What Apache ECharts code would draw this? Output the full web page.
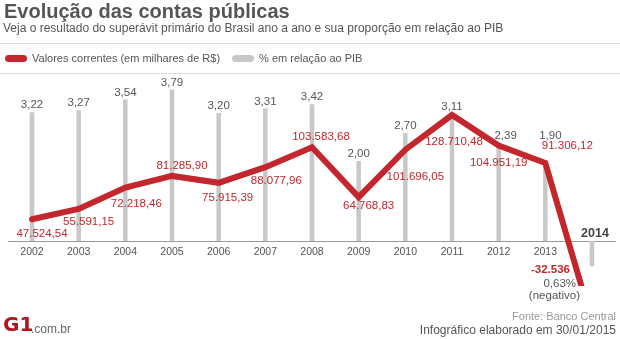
<!DOCTYPE html>
<html>
<head>
<meta charset="utf-8">
<script src="https://cdn.jsdelivr.net/npm/echarts@6/dist/echarts.min.js"></script>
<style>
  html, body { margin: 0; padding: 0; background: #fff; }
  #chart { width: 620px; height: 339px; }
</style>
</head>
<body>
<div id="chart"></div>
<script>
// Superávit primário: valores correntes (milhares de R$) e % do PIB
const years = ['2002', '2003', '2004', '2005', '2006', '2007', '2008', '2009', '2010', '2011', '2012', '2013', '2014'];
const valores = [47524.54, 55591.15, 72218.46, 81285.90, 75915.39, 88077.96, 103583.68, 64768.83, 101696.05, 128710.48, 104951.19, 91306.12, -32536];
const pib = [3.22, 3.27, 3.54, 3.79, 3.20, 3.31, 3.42, 2.00, 2.70, 3.11, 2.39, 1.90, -0.63];

// label placement around each point of the line (pixels)
const lineLabelOffset = [[10, 15], [10, 13], [11, 16], [10, -10], [9, 15.5], [11, 14], [9, -10.6], [10, 9], [10, 27.6], [2, 26.7], [0, 17], [22, -17], [0, 0]];
// extra nudges for the % labels that would sit on the line
const barLabelOffset = { 9: [0, -3], 10: [7, -3], 11: [5, -22] };

const RED = '#c4262d';
const RED_TEXT = '#c0282d';
const GRAY_TEXT = '#555';
const FONT = '"Liberation Sans", Arial, sans-serif';
const GRID_BOTTOM = 56;
const HEIGHT = 339;

function fmtBR(v, dec) {
  const neg = v < 0;
  const s = Math.abs(v).toFixed(dec);
  const parts = s.split('.');
  const intPart = parts[0].replace(/\B(?=(\d{3})+(?!\d))/g, '.');
  return (neg ? '-' : '') + intPart + (parts[1] ? ',' + parts[1] : '');
}

const last = years.length - 1;

const barData = pib.map((v, i) => {
  if (i === last) {
    return { value: v, label: { fontWeight: 'bold', fontSize: 12.5, color: '#444', offset: [3, 0] } };
  }
  if (barLabelOffset[i]) {
    return { value: v, label: { offset: barLabelOffset[i] } };
  }
  return v;
});

const lineData = valores.map((v, i) => ({
  value: v,
  label: i === last ? { show: false } : { offset: lineLabelOffset[i] }
}));

const chart = echarts.init(document.getElementById('chart'), null, { renderer: 'canvas' });

const baseGraphic = [
  { id: 'title', type: 'text', left: 4, top: 2, style: { text: 'Evolução das contas públicas', font: 'bold 20px ' + FONT, fill: '#555' } },
  { id: 'sub', type: 'text', left: 3, top: 23, style: { text: 'Veja o resultado do superávit primário do Brasil ano a ano e sua proporção em relação ao PIB', font: '12px ' + FONT, fill: GRAY_TEXT } },
  { id: 'sep1', type: 'line', shape: { x1: 0, y1: 43.5, x2: 620, y2: 43.5 }, style: { stroke: '#ddd', lineWidth: 1 } },
  { id: 'sep2', type: 'line', shape: { x1: 0, y1: 73.5, x2: 620, y2: 73.5 }, style: { stroke: '#ddd', lineWidth: 1 } },
  { id: 'logo', type: 'text', left: 3, top: 316, style: { text: 'G1', font: '900 20px "DejaVu Sans", sans-serif', fill: '#b0151b' } },
  { id: 'logo2', type: 'text', left: 31, top: 324, style: { text: '.com.br', font: '12px ' + FONT, fill: '#666' } },
  { id: 'fonte', type: 'text', right: 4, top: 311, style: { text: 'Fonte: Banco Central', font: '11px ' + FONT, fill: '#999' } },
  { id: 'info', type: 'text', right: 4, top: 325, style: { text: 'Infográfico elaborado em 30/01/2015', font: '12px ' + FONT, fill: GRAY_TEXT } }
];

chart.setOption({
  animation: false,
  backgroundColor: '#fff',
  textStyle: { fontFamily: FONT },
  legend: {
    left: 5, top: 53, padding: 0,
    itemWidth: 22, itemHeight: 7, itemGap: 12,
    icon: 'path://M3.5,0 H18.5 A3.5,3.5 0 0 1 18.5,7 H3.5 A3.5,3.5 0 0 1 3.5,0 Z',
    textStyle: { fontSize: 11, color: GRAY_TEXT, fontFamily: FONT },
    data: ['Valores correntes (em milhares de R$)', '% em relação ao PIB']
  },
  grid: { left: 8.67, right: 4.67, top: 80, bottom: GRID_BOTTOM, containLabel: false },
  xAxis: {
    type: 'category',
    data: years,
    boundaryGap: true,
    axisLine: { onZero: false, lineStyle: { color: '#999', width: 1 } },
    axisTick: { show: false },
    axisLabel: {
      color: GRAY_TEXT, fontSize: 10.5, margin: 6, fontFamily: FONT,
      formatter: v => (v === years[last] ? '' : v)
    }
  },
  yAxis: [
    { type: 'value', min: -1.05, max: 4.025, show: false },
    { type: 'value', min: -2062, max: 155950, show: false }
  ],
  series: [
    {
      name: '% em relação ao PIB',
      type: 'bar',
      yAxisIndex: 0,
      barWidth: 4.5,
      itemStyle: { color: '#c8c8c8' },
      z: 2,
      label: {
        show: true, position: 'top', distance: 1,
        color: GRAY_TEXT, fontSize: 11.5, fontFamily: FONT,
        formatter: p => (p.dataIndex === last ? years[last] : fmtBR(p.value, 2))
      },
      data: barData
    },
    {
      name: 'Valores correntes (em milhares de R$)',
      type: 'line',
      yAxisIndex: 1,
      clip: true,
      z: 3,
      symbol: 'circle', symbolSize: 2, showSymbol: true,
      itemStyle: { color: RED },
      lineStyle: { color: RED, width: 6, join: 'miter', cap: 'round' },
      label: {
        show: true, position: 'inside',
        color: RED_TEXT, fontSize: 11.5, fontFamily: FONT,
        formatter: p => fmtBR(p.value, 2)
      },
      data: lineData
    }
  ],
  graphic: baseGraphic
});

// the category axis sits on the zero of the % scale
const yZero = chart.convertToPixel({ yAxisIndex: 0 }, 0);
// notes for 2014, anchored to the category and to the end of its bar
const x14 = chart.convertToPixel({ xAxisIndex: 0 }, years[last]);
const yBarEnd = chart.convertToPixel({ yAxisIndex: 0 }, pib[last]);
chart.setOption({
  xAxis: { offset: yZero - (HEIGHT - GRID_BOTTOM) },
  graphic: baseGraphic.concat([
    { id: 'v14', type: 'text', x: x14 - 22, y: yBarEnd + 4, style: { text: fmtBR(valores[last], 0), font: 'bold 11.5px ' + FONT, fill: RED_TEXT, textAlign: 'right', textVerticalAlign: 'middle' } },
    { id: 'p14', type: 'text', x: x14 - 16, y: yBarEnd + 18, style: { text: fmtBR(Math.abs(pib[last]), 2) + '%', font: '11.5px ' + FONT, fill: GRAY_TEXT, textAlign: 'right', textVerticalAlign: 'middle' } },
    { id: 'n14', type: 'text', x: x14 - 12, y: yBarEnd + 29.5, style: { text: '(negativo)', font: '11.5px ' + FONT, fill: GRAY_TEXT, textAlign: 'right', textVerticalAlign: 'middle' } }
  ])
});
</script>
</body>
</html>
